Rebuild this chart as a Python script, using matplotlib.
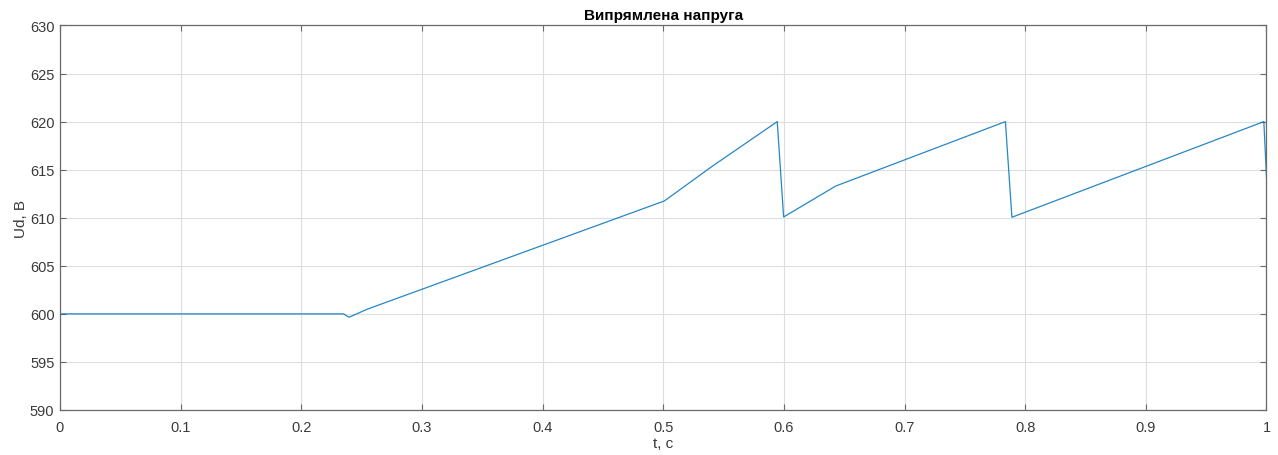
import matplotlib

matplotlib.use("Agg")
import matplotlib.pyplot as plt
import numpy as np

# rectified voltage trace (breakpoints of a piecewise line)
t_s = [0.0, 0.235, 0.2395, 0.245, 0.255, 0.501, 0.540, 0.5945, 0.5998,
       0.643, 0.7836, 0.789, 0.9978, 1.0]
ud_v = [600.0, 600.0, 599.65, 599.95, 600.5, 611.75, 615.3, 620.0, 610.08,
        613.3, 620.0, 610.05, 620.0, 614.2]

x_ticks = [0, 0.1, 0.2, 0.3, 0.4, 0.5, 0.6, 0.7, 0.8, 0.9, 1]
x_tick_labels = ["0", "0.1", "0.2", "0.3", "0.4", "0.5", "0.6", "0.7", "0.8", "0.9", "1"]
y_ticks = [590, 595, 600, 605, 610, 615, 620, 625, 630]

plt.rcParams["font.family"] = ["Liberation Sans", "DejaVu Sans"]
text_col = "#3a3a3a"
axis_col = "#6a6a6a"

fig = plt.figure(figsize=(12.78, 4.56), dpi=100)
ax = fig.add_axes([0.0469, 0.0987, 0.9441, 0.8432])

ax.plot(t_s, ud_v, color="#0072BD", lw=0.9, alpha=0.85)

ax.set_xlim(0, 1)
ax.set_ylim(590, 630)
ax.set_xticks(x_ticks)
ax.set_xticklabels(x_tick_labels)
ax.set_yticks(y_ticks)
ax.grid(True, color="#dedede", lw=0.8)
ax.set_axisbelow(True)

ax.tick_params(direction="in", top=True, right=True, length=4.5, width=0.8,
               color=axis_col, labelcolor=text_col, labelsize=10.5)
ax.tick_params(axis="x", pad=7)
ax.tick_params(axis="y", pad=4)
for sp in ax.spines.values():
    sp.set_color(axis_col)
    sp.set_linewidth(0.9)

ax.set_title("Випрямлена напруга", fontsize=11, fontweight="bold",
             color="black", pad=5)
ax.set_xlabel("t, c", fontsize=11, color=text_col, labelpad=2)
ax.set_ylabel("Ud, B", fontsize=11, color=text_col, labelpad=1)

fig.savefig("out.png", dpi=100)
plt.close("all")
